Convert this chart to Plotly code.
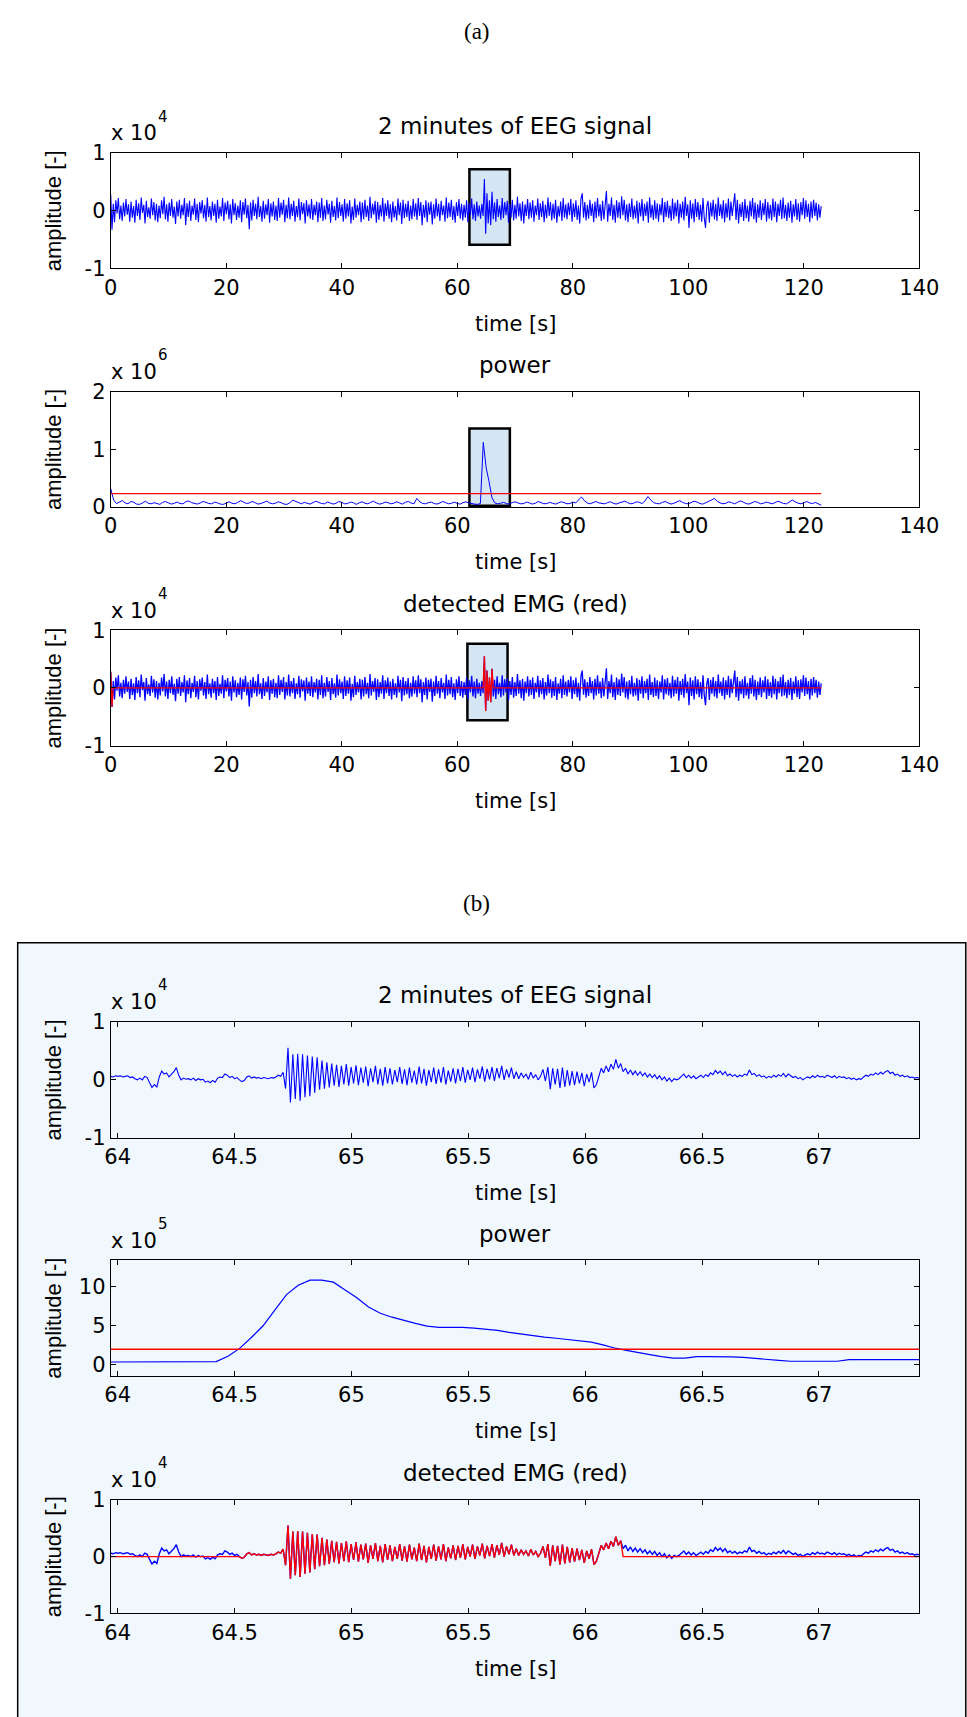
import numpy as np
import plotly.graph_objects as go

# ---------------- DATA ----------------
# (a) overview EEG, amplitude in units of 100 (raw), sampled evenly over 0..123 s
eeg_overview_x100 = [
    28,-33,12,-20,18,-5,22,-15,9,-18,14,-10,20,-7,11,-19,16,-12,8,-21,
    19,-9,13,-16,23,-4,10,-22,17,-11,6,-14,21,-8,15,-17,12,-20,9,-13,
    18,-6,24,-15,11,-19,14,-9,20,-12,7,-23,16,-10,19,-14,10,-8,22,-25,
    13,-11,17,-18,9,-7,21,-16,12,-20,15,-5,18,-13,10,-19,23,-11,8,-17,
    16,-9,12,-21,19,-14,7,-10,22,-18,14,-6,17,-15,11,-22,20,-8,13,-16,
    9,-12,18,-20,15,-7,21,-13,10,-32,14,-17,19,-9,12,-15,24,-11,8,-19,
    17,-14,11,-8,20,-21,13,-10,16,-16,9,-18,22,-12,14,-7,19,-20,10,-13,
    23,-15,12,-9,17,-19,8,-11,21,-17,15,-6,13,-22,18,-10,11,-14,20,-16,
    10,-8,16,-20,14,-12,22,-18,9,-15,19,-7,12,-21,17,-11,8,-17,23,-13,
    15,-9,11,-19,20,-14,13,-10,18,-22,7,-16,21,-12,10,-8,16,-20,14,-15,
    19,-11,9,-18,24,-13,12,-7,17,-21,15,-16,10,-10,22,-19,13,-9,18,-14,
    11,-20,16,-12,8,-17,21,-8,14,-23,19,-13,12,-11,17,-18,9,-15,20,-10,
    13,-16,22,-9,15,-25,10,-12,18,-20,14,-7,16,-24,11,-14,21,-10,12,-18,
    17,-8,9,-19,23,-13,14,-11,19,-16,8,-21,15,-9,20,-14,12,-17,10,-12,
    18,-20,13,-8,21,-15,11,-18,16,-10,9,-14,12,-9,55,-40,30,-22,18,-25,
    33,-15,14,-19,20,-11,9,-16,22,-13,15,-8,17,-21,12,-12,19,-17,10,-14,
    24,-10,13,-18,16,-22,11,-9,20,-15,14,-12,18,-19,9,-8,21,-16,13,-11,
    17,-20,10,-13,23,-9,15,-17,12,-14,19,-21,8,-10,16,-18,22,-12,11,-15,
    14,-8,20,-19,13,-11,18,-16,9,-22,21,30,-12,15,-17,10,-14,19,-9,12,
    -20,16,-13,22,-10,11,-18,17,-15,14,34,-19,12,-9,23,-16,10,-21,18,-12,
    15,-14,25,-8,19,-17,11,-20,13,-11,21,-15,9,-13,17,-22,14,-10,20,-18,
    12,-9,16,-21,23,-12,10,-16,18,-14,13,-19,11,-8,22,-20,15,-11,17,-13,
    9,-18,21,-15,14,-10,19,-22,12,-12,16,-17,24,-9,11,-30,18,-14,13,-20,
    20,-11,15,-16,10,-19,22,-13,-30,8,17,-21,14,-10,19,-15,12,-18,23,-9,
    11,-14,18,-20,13,-12,21,-17,16,-9,10,30,-16,19,-22,12,-11,15,-18,20,
    -13,9,-19,17,-10,22,-15,14,-21,11,-12,18,-16,13,-8,20,-19,15,-14,10,
    -17,21,-11,16,-20,12,-9,19,-15,23,-13,10,-18,14,-12,17,-21,11,-10,20,
    -16,13,-19,15,-8,22,-14,18,-11,12,-20,16,-13,19,-9,14,-17,11,-12,8,
]
overview_t_start, overview_t_end = 0.0, 123.0

# (a) overview power, units of 1e3, one value every 0.5 s over 0..123 s
power_overview_x1e3 = [
    320,120,60,85,110,70,55,95,80,50,45,70,100,65,55,75,60,45,80,
    95,70,50,65,85,60,55,90,105,75,60,50,70,95,80,60,55,85,70,
    50,45,75,90,65,55,80,110,85,60,70,95,75,50,60,85,100,70,55,
    65,90,75,50,45,70,120,95,70,55,80,65,50,75,100,80,60,55,85,
    70,50,65,95,80,55,60,85,75,45,70,90,65,55,80,100,70,50,60,
    85,75,55,65,90,70,50,80,95,70,55,150,90,60,55,75,85,60,50,
    70,95,75,55,65,85,60,50,75,90,70,55,50,45,60,1120,680,440,160,
    70,55,65,80,60,50,75,90,70,55,60,85,70,50,65,95,75,55,60,
    80,65,50,70,90,75,55,60,85,70,120,175,110,70,55,80,95,70,60,
    55,75,90,65,50,70,85,100,75,55,65,90,80,60,105,180,120,75,60,
    55,80,95,70,50,65,85,110,80,60,55,75,100,85,60,50,70,95,120,
    150,100,70,55,65,90,75,55,80,105,85,60,50,70,95,80,55,65,85,
    70,55,75,100,80,60,55,85,120,90,65,55,75,95,70,60,80,55,30,
]
threshold_overview_x1e3 = 230

# (b) zoomed EEG, amplitude in units of 100, sampled evenly over 63.97..67.43 s
eeg_detail_x100 = [
    6,5,7,6,7,5,6,7,4,5,2,0,3,0,6,4,-5,-13,-8,-12,
    5,15,10,12,5,9,14,21,8,0,3,1,2,0,3,-1,2,0,1,-4,
    -2,-5,-1,-4,3,5,4,10,8,4,6,2,4,0,-3,-1,5,7,3,5,
    3,4,2,4,3,2,4,3,5,8,6,13,-15,55,-39,44,-33,45,-36,44,
    -30,42,-28,40,-22,39,-17,33,-15,30,-13,28,-10,26,-12,24,-8,27,-10,22,
    -6,25,-9,21,-5,23,-11,20,-4,24,-8,19,-10,22,-6,20,-8,17,-4,22,
    -7,18,-9,21,-5,16,-8,23,-6,19,-10,17,-4,21,-7,18,-5,22,-8,16,
    -3,20,-6,19,-2,22,-5,17,0,21,-4,18,2,23,-3,19,1,22,-2,20,
    3,24,0,18,4,21,2,14,2,12,4,10,1,13,3,9,0,6,18,-2,
    22,-16,20,-8,19,-14,21,-12,17,-10,15,-9,14,-6,12,-11,10,-4,13,-14,
    -8,8,20,12,24,14,27,18,35,20,28,14,20,10,17,9,15,8,14,7,
    12,5,10,4,9,2,7,0,5,-2,3,-3,2,0,2,6,10,4,8,3,
    7,2,5,8,4,9,6,12,9,16,11,15,9,14,7,10,6,9,5,8,
    6,10,8,17,9,11,6,9,5,7,3,6,4,8,5,9,6,11,5,10,
    7,4,6,2,4,0,3,5,3,7,4,8,5,6,4,8,6,4,7,3,
    6,4,5,2,4,1,3,0,2,1,5,8,6,10,8,12,9,13,10,14,
    16,11,13,8,10,6,8,5,7,4,5,3,4,3,
]
detail_t_start, detail_t_end = 63.97, 67.43

# (b) zoomed power, units of 1e3, sampled evenly over 63.97..67.43 s
power_detail_x1e3 = [
    35,35,35,35,35,35,35,35,35,40,110,210,350,500,700,900,1020,1085,1085,1060,
    960,860,740,660,610,565,530,495,480,480,480,470,455,440,415,395,370,355,340,325,
    310,290,255,215,185,155,130,105,85,85,105,105,105,100,95,80,70,55,45,45,
    45,45,45,65,65,65,65,65,65,65,
]
threshold_detail_x1e3 = 200

# detected EMG intervals [s]
detected_intervals_overview = [(0.0, 0.4), (64.53, 66.16)]
detected_intervals_detail = [(64.53, 66.16)]

# highlighted window boxes in (a): (t0, t1, y0, y1) in axis units
box_a1 = (62.1, 69.1, -0.59, 0.72)
box_a2 = (62.1, 69.1, 0.02, 1.36)
box_a3 = (61.75, 68.7, -0.56, 0.766)

overview_xticks = [0, 20, 40, 60, 80, 100, 120, 140]
detail_xticks = [64, 64.5, 65, 65.5, 66, 66.5, 67]
detail_xtick_text = ["64", "64.5", "65", "65.5", "66", "66.5", "67"]

# ---------------- DERIVED ----------------
eeg_o = np.array(eeg_overview_x100) * 100.0
t_o = np.linspace(overview_t_start, overview_t_end, len(eeg_o))
pow_o = np.array(power_overview_x1e3) * 1e3
t_po = np.linspace(overview_t_start, overview_t_end, len(pow_o))
eeg_d = np.array(eeg_detail_x100) * 100.0
t_d = np.linspace(detail_t_start, detail_t_end, len(eeg_d))
pow_d = np.array(power_detail_x1e3) * 1e3
t_pd = np.linspace(detail_t_start, detail_t_end, len(pow_d))


def detected(t, sig, intervals):
    m = np.zeros(len(t), dtype=bool)
    for a, b in intervals:
        m |= (t >= a) & (t <= b)
    return np.where(m, sig, 0.0)


red_o = detected(t_o, eeg_o, detected_intervals_overview)
red_d = detected(t_d, eeg_d, detected_intervals_detail)

# ---------------- LAYOUT HELPERS ----------------
W, H = 967, 1717
X_L, X_R = 106.7, 938.6
rows = [(143, 260), (385, 502), (627, 744), (1024, 1142), (1266, 1383), (1509, 1624)]


def px(x):
    return x / W


def py(y):
    return 1 - y / H


BLUE = "#0000FF"
RED = "#FF0000"
FONT_H = "DejaVu Sans, Liberation Sans, sans-serif"
FONT_V = "Liberation Sans, Arial, sans-serif"
FONT_S = "Liberation Serif, Times New Roman, serif"

fig = go.Figure()


def ax(i):
    return ("x" if i == 1 else f"x{i}"), ("y" if i == 1 else f"y{i}")


def add(i, x, y, color, width=1.0):
    xa, ya = ax(i)
    fig.add_trace(go.Scatter(x=x, y=y, mode="lines", line=dict(color=color, width=width),
                             xaxis=xa, yaxis=ya, showlegend=False, hoverinfo="skip"))


# (a)
add(1, t_o, eeg_o / 1e4, BLUE, 1.1)
add(2, t_po, pow_o / 1e6, BLUE)
add(2, [t_po[0], t_po[-1]], [threshold_overview_x1e3 * 1e3 / 1e6] * 2, RED, 1.3)
add(3, t_o, eeg_o / 1e4, BLUE, 1.3)
add(3, t_o, red_o / 1e4, RED, 1.3)
# (b)
add(4, t_d, eeg_d / 1e4, BLUE, 1.1)
add(5, t_pd, pow_d / 1e5, BLUE, 1.2)
add(5, [t_pd[0], t_pd[-1]], [threshold_detail_x1e3 * 1e3 / 1e5] * 2, RED, 1.5)
add(6, t_d, eeg_d / 1e4, BLUE, 1.4)
add(6, t_d, red_d / 1e4, RED, 1.4)

xranges = [[0, 140]] * 3 + [[63.97, 67.43]] * 3
yranges = [[-1, 1], [0, 2], [-1, 1], [-1, 1], [-1.4, 13.4], [-1, 1]]
yticks = [[-1, 0, 1], [0, 1, 2], [-1, 0, 1], [-1, 0, 1], [0, 5, 10], [-1, 0, 1]]

common = dict(showline=True, linecolor="black", linewidth=1, mirror="allticks",
              ticks="inside", ticklen=5, tickwidth=1, tickcolor="black",
              showgrid=False, zeroline=False, fixedrange=True,
              tickfont=dict(family=FONT_H, size=21, color="black"))
lay = {}
for i in range(1, 7):
    top, bot = rows[i - 1]
    xk = "xaxis" if i == 1 else f"xaxis{i}"
    yk = "yaxis" if i == 1 else f"yaxis{i}"
    xa, ya = ax(i)
    if i <= 3:
        xt = dict(tickmode="array", tickvals=overview_xticks,
                  ticktext=[str(v) for v in overview_xticks])
    else:
        xt = dict(tickmode="array", tickvals=detail_xticks, ticktext=detail_xtick_text)
    lay[xk] = dict(domain=[px(X_L), px(X_R)], range=xranges[i - 1], anchor=ya, **xt, **common)
    lay[yk] = dict(domain=[py(bot), py(top)], range=yranges[i - 1], anchor=xa,
                   tickmode="array", tickvals=yticks[i - 1],
                   ticktext=[str(v) for v in yticks[i - 1]], **common)

shapes = [
    dict(type="rect", xref="paper", yref="paper", x0=px(11), x1=1.02, y0=-0.02, y1=py(944),
         fillcolor="#F0F8FE", line=dict(color="black", width=1.5), layer="below"),
]
for i, b in zip([1, 2, 3], [box_a1, box_a2, box_a3]):
    xa, ya = ax(i)
    shapes.append(dict(type="rect", xref=xa, yref=ya, x0=b[0], x1=b[1], y0=b[2], y1=b[3],
                       fillcolor="#D4E5F4", line=dict(color="black", width=2.5), layer="below"))

titles = ["2 minutes of EEG signal", "power", "detected EMG (red)"] * 2
exps = ["4", "6", "4", "4", "5", "4"]
ann = []


def txt(x, y, s, size=21, family=FONT_H, xanchor="center", yanchor="middle", angle=0):
    ann.append(dict(x=px(x), y=py(y), xref="paper", yref="paper", text=s, showarrow=False,
                    font=dict(family=family, size=size, color="black"),
                    xanchor=xanchor, yanchor=yanchor, textangle=angle))


xc = (X_L + X_R) / 2
for i in range(6):
    top, bot = rows[i]
    txt(xc, top - 27, titles[i], size=23)
    txt(X_L - 2, top - 20, "x 10", xanchor="left")
    txt(X_L + 47, top - 37, exps[i], size=15, xanchor="left")
    txt(xc, bot + 56, "time [s]")
    txt(48, (top + bot) / 2, "amplitude [-]", size=22, family=FONT_V, angle=-90)

txt(483, 20, "(a)", size=23, family=FONT_S)
txt(483, 904, "(b)", size=23, family=FONT_S)

fig.update_layout(width=W, height=H, margin=dict(l=0, r=0, t=0, b=0),
                  paper_bgcolor="white", plot_bgcolor="rgba(0,0,0,0)",
                  shapes=shapes, annotations=ann, showlegend=False, **lay)

fig.write_html("out.html", config={"displayModeBar": False})
